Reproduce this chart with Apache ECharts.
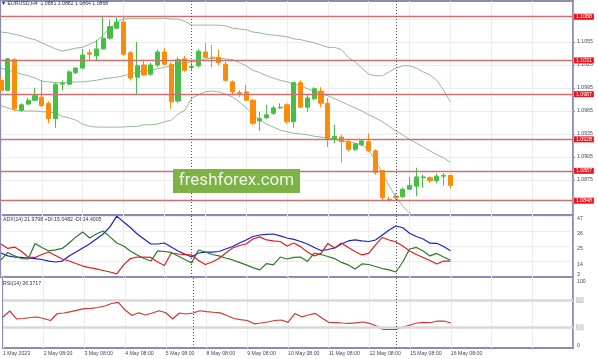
<!DOCTYPE html>
<html><head><meta charset="utf-8">
<script src="https://cdn.jsdelivr.net/npm/echarts@6/dist/echarts.min.js"></script>
<style>html,body{margin:0;padding:0;background:#fff}#c{width:598px;height:359px}</style>
</head><body><div id="c"></div>
<script>
// ---- data ----
const symbolText = 'EURUSD,H4';
const tickLabels = ['1 May 2023','2 May 08:00','3 May 08:00','4 May 08:00','5 May 08:00','8 May 08:00','9 May 08:00','10 May 08:00','11 May 08:00','12 May 08:00','15 May 08:00','16 May 08:00'];
const open = [1.1005,1.0992,1.1032,1.0966,1.0974,1.0979,1.0983,1.0975,1.0955,1.1000,
  1.1000,1.1015,1.1021,1.1041,1.1037,1.1046,1.1060,1.1073,1.1081,1.1041,
  1.1009,1.1025,1.1013,1.1025,1.1042,1.1026,1.0978,1.1033,1.1022,1.1024,
  1.1042,1.1035,1.1035,1.1026,1.1003,1.0989,1.0990,1.0979,1.0952,1.0956,
  1.0962,1.0969,1.0973,1.0951,1.1002,1.0970,1.0981,1.0991,1.0975,1.0928,
  1.0931,1.0925,1.0915,1.0921,1.0925,1.0913,1.0887,1.0850,1.0854,1.0853,
  1.0863,1.0867,1.0878,1.0878,1.0874,1.0880,1.0881];
const high = [1.1008,1.1034,1.1034,1.0975,1.0982,1.0995,1.1005,1.0978,1.1002,1.1005,
  1.1018,1.1022,1.1046,1.1046,1.1058,1.1088,1.1084,1.1087,1.1088,1.1043,
  1.1055,1.1032,1.1028,1.1045,1.1047,1.1028,1.1035,1.1037,1.1028,1.1046,
  1.1054,1.1051,1.1045,1.1029,1.1005,1.0992,1.0999,1.0981,1.0964,1.0973,
  1.0972,1.0975,1.0975,1.1003,1.1005,1.0986,1.0996,1.0996,1.0982,1.0947,
  1.0934,1.0927,1.0923,1.0928,1.0936,1.0915,1.0888,1.0853,1.0858,1.0865,
  1.0879,1.0891,1.0882,1.0880,1.0883,1.0884,1.0882];
const low = [1.0990,1.0991,1.0965,1.0964,1.0973,1.0978,1.0970,1.0949,1.0943,1.0992,
  1.0999,1.1013,1.1020,1.1032,1.1030,1.1045,1.1058,1.1072,1.1037,1.1005,
  1.0986,1.1011,1.1011,1.1022,1.1025,1.0968,1.0975,1.1016,1.1018,1.1022,
  1.1034,1.1022,1.1025,1.1003,1.0986,1.0983,1.0978,1.0947,1.0939,1.0955,
  1.0960,1.0968,1.0948,1.0943,1.0969,1.0964,1.0979,1.0970,1.0918,1.0923,
  1.0898,1.0912,1.0913,1.0919,1.0912,1.0882,1.0849,1.0846,1.0849,1.0852,
  1.0862,1.0854,1.0865,1.0871,1.0871,1.0868,1.0864];
const close = [1.0992,1.1033,1.0968,1.0973,1.0979,1.0985,1.0972,1.0955,1.1000,1.1001,
  1.1016,1.1021,1.1038,1.1039,1.1046,1.1060,1.1075,1.1081,1.1039,1.1008,
  1.1024,1.1012,1.1025,1.1042,1.1026,1.0977,1.1032,1.1018,1.1023,1.1043,
  1.1035,1.1034,1.1028,1.1005,1.0990,1.0988,1.0979,1.0949,1.0955,1.0960,
  1.0969,1.0970,1.0951,1.1002,1.0970,1.0982,1.0994,1.0975,1.0928,1.0932,
  1.0925,1.0915,1.0922,1.0926,1.0913,1.0885,1.0852,1.0849,1.0852,1.0863,
  1.0868,1.0879,1.0879,1.0874,1.0880,1.0881,1.0868];
const bbUpper = [1.1068,1.1067,1.1065,1.1063,1.1060,1.1058,1.1054,1.1050,1.1046,1.1043,
  1.1045,1.1047,1.1048,1.1052,1.1056,1.1064,1.1073,1.1081,1.1085,1.1086,
  1.1086,1.1086,1.1086,1.1086,1.1086,1.1085,1.1085,1.1082,1.1077,1.1077,
  1.1077,1.1077,1.1077,1.1076,1.1073,1.1072,1.1071,1.1068,1.1067,1.1065,
  1.1064,1.1063,1.1062,1.1059,1.1058,1.1056,1.1054,1.1051,1.1048,1.1048,
  1.1045,1.1035,1.1029,1.1021,1.1013,1.1011,1.1011,1.1016,1.1021,1.1024,
  1.1024,1.1021,1.1016,1.1012,1.1005,1.0992,1.0977];
const bbMiddle = [1.1021,1.1018,1.1016,1.1013,1.1011,1.1008,1.1004,1.1003,1.1002,1.1002,
  1.1002,1.1003,1.1003,1.1004,1.1005,1.1007,1.1008,1.1009,1.1011,1.1013,
  1.1016,1.1017,1.1018,1.1020,1.1022,1.1024,1.1026,1.1028,1.1029,1.1030,
  1.1033,1.1034,1.1034,1.1033,1.1032,1.1028,1.1024,1.1018,1.1015,1.1011,
  1.1008,1.1005,1.1003,1.1000,1.0998,1.0994,1.0991,1.0987,1.0985,1.0981,
  1.0977,1.0973,1.0969,1.0965,1.0960,1.0956,1.0951,1.0945,1.0939,1.0934,
  1.0928,1.0923,1.0918,1.0913,1.0908,1.0904,1.0898];
const bbLower = [1.0972,1.0969,1.0966,1.0965,1.0965,1.0965,1.0964,1.0964,1.0962,1.0958,
  1.0956,1.0953,1.0948,1.0945,1.0944,1.0944,1.0944,1.0944,1.0944,1.0945,
  1.0945,1.0947,1.0947,1.0948,1.0951,1.0953,1.0961,1.0966,1.0982,1.0986,
  1.0990,1.0991,1.0990,1.0987,1.0983,1.0977,1.0969,1.0961,1.0953,1.0948,
  1.0944,1.0940,1.0938,1.0936,1.0935,1.0934,1.0932,1.0931,1.0930,1.0928,
  1.0926,1.0925,1.0923,1.0921,1.0914,1.0900,1.0885,1.0867,1.0853,1.0841,
  1.0832,1.0825,1.0820,1.0814,1.0811,1.0816,1.0819];
const adx = [20.3,18.2,17.4,17.1,16.7,16.3,15.6,14.5,13.8,14.5,
  18.2,21.0,23.9,26.8,30.4,34.0,39.1,46.9,42.6,38.7,
  34.0,30.4,26.8,26.8,27.5,24.6,21.8,19.6,17.4,20.3,
  21.0,21.0,21.4,23.2,25.0,27.5,29.7,32.2,33.3,33.7,
  34.0,32.6,31.1,30.1,28.6,26.8,24.3,22.1,22.8,23.9,
  26.8,29.0,29.7,29.0,28.6,29.7,33.3,36.9,39.8,38.5,
  34.5,32.2,30.4,27.4,27.3,25.0,21.98];
const plusDI = [15.3,20.7,18.2,16.3,16.0,27.2,24.3,21.8,22.5,23.6,
  27.5,31.9,35.5,31.1,34.0,36.2,31.9,27.5,25.4,21.8,
  18.9,16.3,14.5,21.8,21.4,20.7,18.2,15.6,13.1,22.5,
  21.0,19.2,18.2,16.7,15.3,13.5,11.7,9.8,8.1,12.7,
  11.7,17.4,16.0,17.1,17.4,14.2,20.3,19.2,17.8,16.3,
  13.5,11.7,8.8,12.4,12.0,10.6,9.1,8.1,6.6,13.8,
  23.2,24.3,21.8,18.2,20.0,17.4,15.05];
const minusDI = [26.8,23.6,24.6,21.6,17.2,17.1,19.2,21.0,18.5,16.0,
  14.5,12.7,10.9,9.8,8.8,7.7,6.6,5.2,11.7,16.3,
  17.4,17.4,17.1,13.8,11.3,20.3,19.6,19.2,18.9,14.9,
  12.0,13.8,16.3,20.3,23.9,25.7,26.8,30.4,31.9,29.7,
  29.0,28.6,25.4,27.5,24.9,21.0,18.2,20.0,27.2,23.9,
  27.5,24.3,21.4,18.9,20.0,26.1,31.5,29.7,28.3,25.4,
  21.8,19.2,17.1,14.9,12.4,14.5,14.4];
const rsi = [45.1,53.9,42.2,42.9,44.4,45.1,42.9,40.0,50.2,51.0,
  53.1,55.3,57.5,57.8,59.0,61.2,64.9,66.6,55.3,47.3,
  51.4,48.0,51.0,54.3,51.4,42.2,51.0,49.5,51.0,54.3,
  53.1,52.1,51.2,47.3,42.9,41.4,40.0,35.1,36.3,37.8,
  40.0,40.7,37.3,50.2,45.4,48.0,50.5,43.6,37.3,36.9,
  36.3,35.9,36.6,37.8,35.9,31.9,27.1,26.8,27.1,30.5,
  33.4,36.3,37.3,36.7,39.2,39.2,36.37];
const priceTicks = [1.1085,1.1055,1.1025,1.0995,1.0965,1.0935,1.0905,1.0875];
const levels = [1.1088,1.1031,1.0987,1.0928,1.0887,1.0848];
const lastPrice = 1.0868;
const adxTicks = [14,25,36,47];
const adxMinTick = [3];
const rsiTopTick = [100];
const rsiLevels = [30,70];
const rsiBottomTick = [0];
const separators = [28,58];
const adxTitle = 'ADX(14) 21.9798 +DI:15.0482 -DI:14.4005';
const rsiTitle = 'RSI(14) 36.3717';

// ---- chart ----
const SLOTS = 85, STEP = 6;
const cats = Array.from({length: SLOTS}, (_, i) => (i % STEP === 0 && tickLabels[i / STEP]) ? tickLabels[i / STEP] : '');
const candles = open.map((o, i) => [o, close[i], low[i], high[i]]);
const FONT = 'Liberation Sans';
const FS = 5.2;
const GREEN = '#45c045', ORANGE = '#fb8c0a';
const AXC = '#8c8cae', GRIDC = '#ececf1', TXT = '#45455f';
const sepLines = separators.map(s => ({xAxis: s}));
const sepStyle = {symbol: ['none','none'], silent: true, label: {show: false},
  lineStyle: {type: [1, 2], color: '#555', width: 1}, data: sepLines};

function xAx(gi, showLabel) {
  return {type: 'category', gridIndex: gi, data: cats, boundaryGap: false,
    axisLine: {show: false}, axisTick: {show: false},
    axisLabel: {show: showLabel, interval: (i) => i % STEP === 0, align: 'left', fontSize: FS,
      fontFamily: FONT, color: TXT, margin: 3},
    splitLine: {show: true, interval: (i) => i % STEP === 0, lineStyle: {color: GRIDC, width: 1}}};
}
function yAx(gi, min, max, vals, va, extra) {
  return Object.assign({type: 'value', gridIndex: gi, position: 'right', min, max,
    axisLine: {show: false}, axisTick: {show: false},
    axisLabel: {customValues: vals, verticalAlign: va, fontSize: FS, fontFamily: FONT, color: TXT, margin: 4},
    splitLine: {show: false}}, extra || {});
}

const chart = echarts.init(document.getElementById('c'), null, {renderer: 'canvas'});
chart.setOption({
  animation: false,
  backgroundColor: '#ffffff',
  title: [
    {text: '\u25BC ' + symbolText + '  ' + [open, high, low, close].map(a => a[a.length - 1].toFixed(4)).join(' '),
     left: 1, top: 1, padding: 0, textStyle: {fontSize: FS, fontWeight: 'normal', fontFamily: FONT, color: '#303050'}},
    {text: adxTitle, left: 3, top: 217, padding: 0, textStyle: {fontSize: FS, fontWeight: 'normal', fontFamily: FONT, color: '#303050'}},
    {text: rsiTitle, left: 3, top: 281, padding: 0, textStyle: {fontSize: FS, fontWeight: 'normal', fontFamily: FONT, color: '#303050'}}
  ],
  grid: [
    {left: 1, right: 25, top: 1, height: 214, show: true, borderColor: AXC, borderWidth: 2, backgroundColor: 'transparent'},
    {left: 1, right: 25, top: 215, height: 62, show: true, borderColor: AXC, borderWidth: 2, backgroundColor: 'transparent'},
    {left: 1, right: 25, top: 277, height: 71, show: true, borderColor: AXC, borderWidth: 2, backgroundColor: 'transparent'}
  ],
  xAxis: [xAx(0, false), xAx(1, false), xAx(2, true)],
  yAxis: [
    yAx(0, 1.082935, 1.110848, priceTicks, 'middle', {
      axisLine: {show: true, lineStyle: {color: AXC, width: 1.5}},
      axisTick: {show: true, length: 2, customValues: priceTicks, lineStyle: {color: AXC}},
      axisLabel: {customValues: priceTicks, formatter: v => v.toFixed(4), verticalAlign: 'middle', fontSize: FS, fontFamily: FONT, color: TXT, margin: 4},
      splitLine: {show: true, lineStyle: {color: GRIDC}}}),
    yAx(1, 3, 47.7, adxTicks, 'top', {
      axisLine: {show: true, lineStyle: {color: AXC, width: 1.5}},
      axisTick: {show: false, customValues: adxTicks},
      splitLine: {show: true, lineStyle: {color: GRIDC}}}),
    yAx(1, 3, 47.7, adxMinTick, 'bottom'),
    yAx(2, -0.3, 103.7, rsiTopTick, 'top', {axisLine: {show: true, lineStyle: {color: AXC, width: 1.5}}}),
    yAx(2, -0.3, 103.7, rsiLevels, 'middle', {axisLabel: {customValues: rsiLevels, verticalAlign: 'middle', fontSize: FS,
      fontFamily: FONT, color: '#f2f2f2', backgroundColor: '#d4d4d4', padding: [0.5, 1], margin: 3}}),
    yAx(2, -0.3, 103.7, rsiBottomTick, 'bottom')
  ],
  series: [
    {type: 'line', xAxisIndex: 0, yAxisIndex: 0, data: bbUpper, showSymbol: false, silent: true,
     lineStyle: {color: '#93bb93', width: 1}, z: 3},
    {type: 'line', xAxisIndex: 0, yAxisIndex: 0, data: bbMiddle, showSymbol: false, silent: true,
     lineStyle: {color: '#93bb93', width: 1}, z: 3},
    {type: 'line', xAxisIndex: 0, yAxisIndex: 0, data: bbLower, showSymbol: false, silent: true,
     lineStyle: {color: '#93bb93', width: 1}, z: 3},
    {type: 'candlestick', xAxisIndex: 0, yAxisIndex: 0, data: candles, barWidth: 4.6, z: 4,
     itemStyle: {color: GREEN, color0: ORANGE, borderColor: GREEN, borderColor0: ORANGE, borderWidth: 1},
     markLine: {symbol: ['none','none'], silent: true, precision: 4,
       lineStyle: {type: 'solid', color: '#cf7070', width: 1.3},
       label: {show: true, position: 'end', distance: 1, formatter: p => Number(p.value).toFixed(4),
         color: '#ffffff', backgroundColor: '#e8161c', padding: [0.5, 2, 0.5, 2], fontSize: FS, fontFamily: FONT},
       data: levels.map(v => ({yAxis: v})).concat([
         {yAxis: lastPrice, lineStyle: {opacity: 0}, label: {backgroundColor: '#17178c', color: '#ffffff'}}
       ]).concat(separators.map(s => ({xAxis: s, lineStyle: {type: [1, 2], color: '#555', width: 1}, label: {show: false}})))
     }},
    {type: 'line', xAxisIndex: 1, yAxisIndex: 1, data: adx, showSymbol: false, silent: true,
     lineStyle: {color: '#1f1fcf', width: 1.2}, markLine: sepStyle},
    {type: 'line', xAxisIndex: 1, yAxisIndex: 1, data: plusDI, showSymbol: false, silent: true,
     lineStyle: {color: '#2a7a2a', width: 1.2}},
    {type: 'line', xAxisIndex: 1, yAxisIndex: 1, data: minusDI, showSymbol: false, silent: true,
     lineStyle: {color: '#e02020', width: 1.2}},
    {type: 'line', xAxisIndex: 2, yAxisIndex: 3, data: rsi, showSymbol: false, silent: true,
     lineStyle: {color: '#d43535', width: 1.2}, z: 4,
     markLine: {symbol: ['none','none'], silent: true, label: {show: false},
       data: rsiLevels.map(v => ({yAxis: v, lineStyle: {color: '#d8d8d8', width: 2.5, type: 'solid'}}))
         .concat(separators.map(s => ({xAxis: s, lineStyle: {type: [1, 2], color: '#555', width: 1}})))}}
  ],
  graphic: [
    {type: 'rect', shape: {x: 173, y: 169, width: 127, height: 24}, style: {fill: '#7db244'}, z: 100, silent: true},
    {type: 'text', x: 236.5, y: 181, z: 101, silent: true,
     style: {text: 'freshforex.com', fill: '#f1f6ea', fontSize: 17, fontFamily: 'Roboto', align: 'center', verticalAlign: 'middle'}}
  ]
});
</script>
</body></html>
